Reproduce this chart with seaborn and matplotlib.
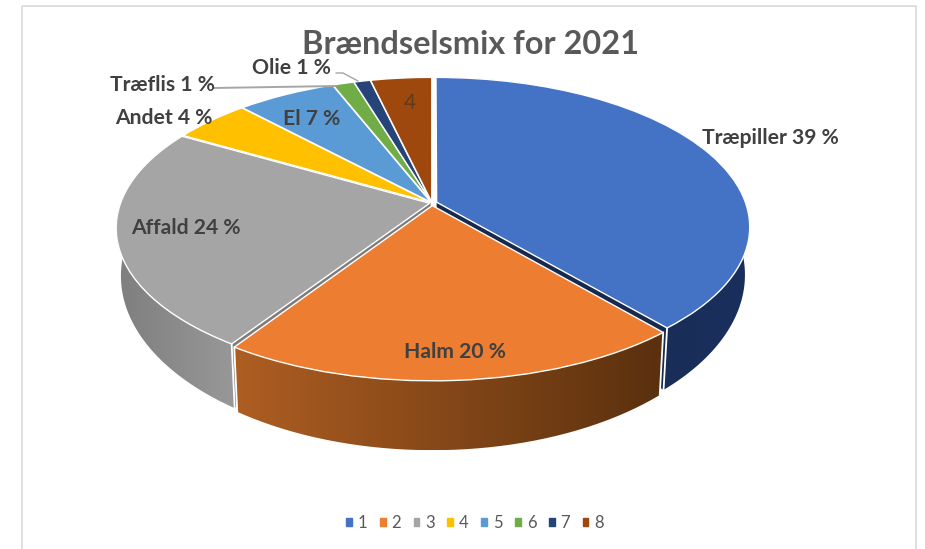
import numpy as np
import matplotlib
matplotlib.use('Agg')
import matplotlib.pyplot as plt
import seaborn as sns
from matplotlib.colors import LinearSegmentedColormap
from matplotlib.patches import Patch, PathPatch, Rectangle
from matplotlib.path import Path
from matplotlib.transforms import Transform

# values (slice angles, not the printed labels)
series_names = ['1', '2', '3', '4', '5', '6', '7', '8']
shares = [38.7, 20.6, 24.0, 4.7, 6.0, 1.3, 1.0, 3.7]
colours = ['#4472C4', '#ED7D31', '#A5A5A5', '#FFC000', '#5B9BD5', '#70AD47', '#264478', '#9E480E']
explode = [0.016, 0.018, 0.008, 0.006, 0.006, 0.006, 0.006, 0.006]

title_text = 'Brændselsmix for 2021'
label_texts = ['Træpiller 39 %', 'Halm 20 %', 'Affald 24 %', 'Andet 4 %', 'El 7 %', 'Træflis 1 %', 'Olie 1 %']
label_x = [770, 455, 186, 164, 312, 162, 292]
label_y = [138, 352, 228, 118, 119, 85, 68]

# perspective of the tilted disc, in picture pixels
CX, CY = 432, 203
A, B, K = 309.0, 145.5, 0.164
SCALE_X, SCALE_Y, MID_TOP, MID_BOTTOM = 0.985, 1.14, 228, 276


class Tilt(Transform):
    input_dims = 2
    output_dims = 2
    is_separable = False

    def transform_non_affine(self, values):
        values = np.asarray(values, dtype=float)
        w = 1 + K * values[:, 1]
        return np.column_stack([CX + A * values[:, 0] / w, CY - B * values[:, 1] / w])


def lower(points):
    # same outline on the underside of the disc
    return np.column_stack([CX + SCALE_X * (points[:, 0] - CX), MID_BOTTOM + SCALE_Y * (points[:, 1] - MID_TOP)])


def arc(wedge, tilt):
    t = np.radians(np.linspace(wedge.theta1, wedge.theta2, 120))
    unit = np.column_stack([wedge.center[0] + wedge.r * np.cos(t), wedge.center[1] + wedge.r * np.sin(t)])
    return tilt.transform_non_affine(unit)


def side(ax, wedge, tilt, left_colour, right_colour):
    top = arc(wedge, tilt)
    outline = np.vstack([top, lower(top)[::-1], top[:1]])
    x0, x1 = outline[:, 0].min(), outline[:, 0].max()
    y0, y1 = outline[:, 1].min(), outline[:, 1].max()
    cmap = LinearSegmentedColormap.from_list('side', [left_colour, right_colour])
    img = ax.imshow(np.linspace(0, 1, 256)[None, :], cmap=cmap, extent=[x0, x1, y1, y0],
                    aspect='auto', zorder=2, interpolation='bilinear')
    patch = PathPatch(Path(outline), facecolor='none', edgecolor='none', transform=ax.transData)
    ax.add_patch(patch)
    img.set_clip_path(patch)
    # white seams at the two ends of the side
    for i in [0, -1]:
        seam = np.vstack([top[i], lower(top)[i]])
        ax.plot(seam[:, 0], seam[:, 1], color='white', lw=1.3, zorder=2.5)


def wall(ax, wedge, theta, tilt, colour):
    t = np.radians(theta)
    unit = np.array([wedge.center, [wedge.center[0] + wedge.r * np.cos(t), wedge.center[1] + wedge.r * np.sin(t)]])
    edge = tilt.transform_non_affine(unit)
    shape = np.vstack([edge, lower(edge)[::-1]])
    ax.fill(shape[:, 0], shape[:, 1], color=colour, lw=0, zorder=1.5)


sns.set_theme(style='white')
plt.rcParams['font.family'] = ['Lato', 'DejaVu Sans']

fig, ax = plt.subplots(figsize=(9.25, 5.49), dpi=100)
fig.subplots_adjust(0, 0, 1, 1)

palette = sns.color_palette(colours)
wedges, _ = ax.pie(shares, colors=palette, explode=explode, startangle=90, counterclock=False,
                   wedgeprops=dict(edgecolor='white', linewidth=1.0, zorder=3))

ax.set_aspect('auto')
ax.set_xlim(0, 925)
ax.set_ylim(549, 0)
ax.set_autoscale_on(False)

tilt = Tilt()
for w in wedges:
    w.set_transform(tilt + ax.transData)

side(ax, wedges[0], tilt, '#16294F', '#1A2F5C')
side(ax, wedges[1], tilt, '#AE5E22', '#5A300E')
side(ax, wedges[2], tilt, '#7E7E7E', '#989898')
wall(ax, wedges[3], wedges[3].theta2, tilt, '#8A6A20')
wall(ax, wedges[2], wedges[2].theta2, tilt, '#7C7C7C')
wall(ax, wedges[0], wedges[0].theta1, tilt, '#16294F')

# chart frame
ax.add_patch(Rectangle((22, 6), 894, 560, facecolor='none', edgecolor='#D9D9D9', lw=1.2, zorder=0.5))

ax.text(470, 44, title_text, ha='center', va='center', fontsize=23.4, fontweight='bold', color='#595959', zorder=5)
for name, x, y in zip(label_texts, label_x, label_y):
    ax.text(x, y, name, ha='center', va='center', fontsize=15.2, fontweight='bold', color='#404040', zorder=5)
ax.text(410, 103, '4', ha='center', va='center', fontsize=15, color='#5F3A1C', zorder=5)

# leader lines
ax.plot([214, 336], [88, 86], color='#A6A6A6', lw=1.4, zorder=4)
ax.plot([336, 343, 358], [73, 73, 81], color='#A6A6A6', lw=1, zorder=4)

handles = [Patch(color=c, label=n) for c, n in zip(palette, series_names)]
ax.legend(handles=handles, loc='center', bbox_to_anchor=(475 / 925, 1 - 523 / 549), ncol=8, frameon=False,
          fontsize=12, labelcolor='#595959', handlelength=0.35, handleheight=0.35,
          handletextpad=0.35, columnspacing=0.75)

plt.savefig('out.png', dpi=100)
plt.close()
